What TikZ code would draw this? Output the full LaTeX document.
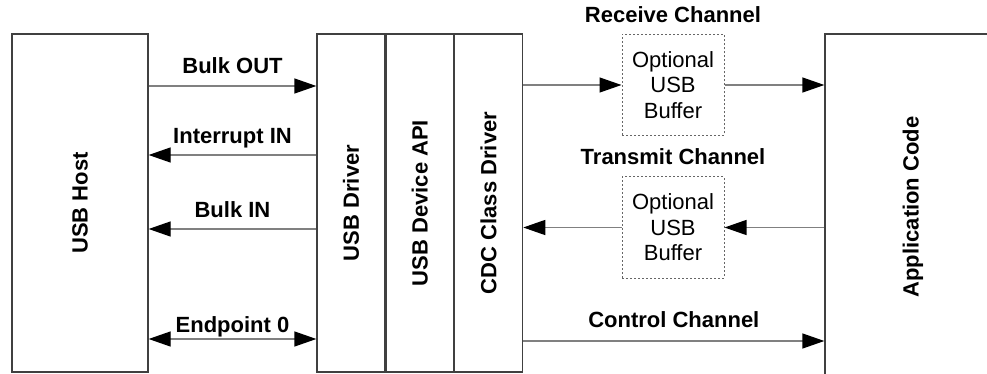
\documentclass[tikz,border=0pt]{standalone}
\usepackage{fontspec}
\setmainfont{Liberation Sans}
\usetikzlibrary{arrows.meta}
\begin{document}
\begin{tikzpicture}[x={(1pt,0pt)}, y={(0pt,-1pt)},
		font=\fontsize{22}{25.5}\selectfont,
		blk/.style={draw=black!75, line width=1.3pt, inner sep=0pt, minimum height=338pt},
		buf/.style={draw=black!60, line width=1pt, dash pattern=on 2pt off 2pt, inner sep=0pt,
			minimum width=102pt, minimum height=101pt, align=center},
		vtxt/.style={rotate=90, font=\fontsize{22}{25.5}\selectfont\bfseries},
		lbl/.style={font=\fontsize{22}{25.5}\selectfont\bfseries, text depth=0pt, inner sep=0pt},
		flow/.style={draw=black!50, line width=1.3pt, -{Triangle[length=22pt, width=15pt, color=black]}},
		dflow/.style={draw=black!50, line width=1.3pt, {Triangle[length=22pt, width=15pt, color=black]}-{Triangle[length=22pt, width=15pt, color=black]}}]
			\useasboundingbox (0,0) rectangle (987,374);
			\node[blk, minimum width=136pt] (host) at (80,203) {};
			\node[vtxt] (hosttxt) at (host) {USB Host};
			\node[blk, minimum width=68pt] (drv) at (351,203) {};
			\node[blk, minimum width=67pt, anchor=west] (api) at (drv.east) {};
			\node[blk, minimum width=68pt, anchor=west] (cdc) at (api.east) {};
			\node[vtxt] (drvtxt) at (drv) {USB Driver};
			\node[vtxt] (apitxt) at (api) {USB Device API};
			\node[vtxt] (cdctxt) at (cdc) {CDC Class Driver};
			\node[buf] (rxbuf) at (673,85) {Optional\\USB\\Buffer};
			\node[buf] (txbuf) at (673,227.5) {Optional\\USB\\Buffer};
			\node[lbl, above=11pt] (rxlbl) at (rxbuf.north) {Receive Channel};
			\node[lbl, above=12pt] (txlbl) at (txbuf.north) {Transmit Channel};
			\node[blk, minimum width=176pt, minimum height=346pt] (app) at (913,207) {};
			\node[vtxt] (apptxt) at (app) {Application Code};
			\draw[flow] (host.east |- 0,86) -- (drv.west |- 0,86) node[lbl, midway, above=12pt] {Bulk OUT};
			\draw[flow] (drv.west |- 0,155) -- (host.east |- 0,155) node[lbl, midway, above=11pt] {Interrupt IN};
			\draw[flow] (drv.west |- 0,229) -- (host.east |- 0,229) node[lbl, midway, above=11pt] {Bulk IN};
			\draw[dflow] (host.east |- 0,339) -- (drv.west |- 0,339) node[lbl, midway, above=6pt] {Endpoint 0};
			\draw[flow] (cdc.east |- rxbuf.west) -- (rxbuf.west);
			\draw[flow] (rxbuf.east) -- (app.west |- rxbuf.east);
			\draw[flow] (app.west |- txbuf.east) -- (txbuf.east);
			\draw[flow] (txbuf.west) -- (cdc.east |- txbuf.west);
			\draw[flow] (cdc.east |- 0,341) -- (app.west |- 0,341) node[lbl, midway, above=13pt] {Control Channel};
		\end{tikzpicture}
\end{document}
